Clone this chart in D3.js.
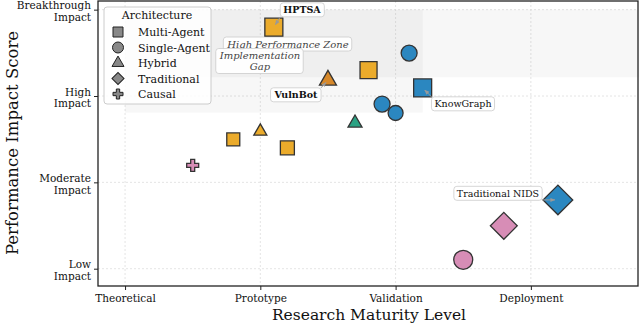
<!DOCTYPE html>
<html><head><meta charset="utf-8">
<script src="https://cdn.jsdelivr.net/npm/d3@7"></script>
<style>
body{margin:0;background:#fff;}
svg{font-family:"DejaVu Serif",serif;}
</style></head>
<body><svg id="chart" width="640" height="326"></svg>
<script>
// ---- data ----
const xTickValues = [1, 2, 3, 4];
const xTickLabels = ["Theoretical", "Prototype", "Validation", "Deployment"];
const yTickValues = [20, 50, 80, 110];
const yTickLabels = [["Low", "Impact"], ["Moderate", "Impact"], ["High", "Impact"], ["Breakthrough", "Impact"]];

const names      = ["HPTSA","M2","S1","VulnBot","KnowGraph","S2","S3","H2","M3","H3","M4","C1","Traditional NIDS","T2","S4"];
const maturity   = [2.1, 2.8, 3.1, 2.5, 3.2, 2.9, 3.0, 2.7, 1.8, 2.0, 2.2, 1.5, 4.2, 3.8, 3.5];
const impact     = [103.9, 89.0, 94.9, 85.5, 82.8, 77.2, 74.1, 70.6, 64.9, 67.7, 62.0, 55.9, 43.9, 34.9, 23.1];
const archType   = ["Multi-Agent","Multi-Agent","Single-Agent","Hybrid","Multi-Agent","Single-Agent","Single-Agent","Hybrid","Multi-Agent","Hybrid","Multi-Agent","Causal","Traditional","Traditional","Single-Agent"];
const group      = ["A","A","B","C","B","B","B","D","A","A","A","E","B","E","E"];
const weight     = [18, 17, 16, 17, 18, 16, 15, 14, 13, 13, 14, 12, 21, 19, 19];
const labeled    = ["HPTSA","VulnBot","KnowGraph","Traditional NIDS"];

const archCategories = ["Multi-Agent","Single-Agent","Hybrid","Traditional","Causal"];
const groupCategories = ["A","B","C","D","E"];
const groupColors = ["#EBAB2B","#2B87C0","#D6882A","#2AA283","#D78DB6"];

const zoneNames = ["Implementation Gap", "High Performance Zone"];
const zoneX0 = [1.0, 1.0];
const zoneX1 = [3.2, 4.8];
const zoneY0 = [74.2, 86.5];
const zoneY1 = [110, 110];

// ---- layout ----
const svg = d3.select("#chart");
const L = 98, R = 638, T = 1, B = 286;
const x = d3.scaleLinear().domain([0.8, 4.792]).range([L, R]);
const y = d3.scaleLinear().domain([20, 80]).range([268.7, 96]);
y.domain([y.invert(B), y.invert(T)]).range([B, T]);

const color = d3.scaleOrdinal().domain(groupCategories).range(groupColors);
const shapeOf = d3.scaleOrdinal().domain(archCategories)
  .range([d3.symbolSquare, d3.symbolCircle, d3.symbolTriangle, d3.symbolSquare, d3.symbolCross]);
const areaFactor = d3.scaleOrdinal().domain(archCategories)
  .range([1, Math.PI / 4, Math.sqrt(3) / 4, 1, 5 / 9]);
const rotOf = a => a === "Traditional" ? 45 : 0;

// grid
const g = svg.append("g");
g.selectAll(".vg").data(xTickValues).join("line")
  .attr("x1", d => x(d)).attr("x2", d => x(d)).attr("y1", T).attr("y2", B)
  .attr("stroke", "#ddd").attr("stroke-width", 0.8).attr("stroke-dasharray", "2,2");
g.selectAll(".hg").data(yTickValues).join("line")
  .attr("x1", L).attr("x2", R).attr("y1", d => y(d)).attr("y2", d => y(d))
  .attr("stroke", "#ddd").attr("stroke-width", 0.8).attr("stroke-dasharray", "2,2");

// zones
g.selectAll(".zone").data(zoneNames).join("rect")
  .attr("x", (d, i) => x(zoneX0[i])).attr("width", (d, i) => x(zoneX1[i]) - x(zoneX0[i]))
  .attr("y", (d, i) => y(zoneY1[i])).attr("height", (d, i) => y(zoneY0[i]) - y(zoneY1[i]))
  .attr("fill", "#888").attr("fill-opacity", 0.065);

function boxLabel(lines, cx, cy, opts) {
  const fs = opts.size || 10, lh = opts.lh || 11;
  const grp = svg.append("g");
  const t = grp.append("text").attr("text-anchor", opts.anchor || "middle")
    .attr("font-size", fs).attr("font-style", opts.italic ? "italic" : "normal")
    .attr("font-weight", opts.bold ? "bold" : "normal").attr("fill", opts.fill || "#222");
  lines.forEach((s, i) => t.append("tspan").attr("x", cx).attr("y", cy + i * lh - (lines.length - 1) * lh / 2 + fs * 0.35).text(s));
  const bb = t.node().getBBox();
  grp.insert("rect", "text").attr("x", bb.x - 3).attr("y", bb.y - 1.5).attr("width", bb.width + 6).attr("height", bb.height + 3)
    .attr("rx", 3).attr("fill", "#fff").attr("fill-opacity", 0.9).attr("stroke", "#ccc").attr("stroke-width", 0.8);
  return bb;
}
boxLabel(["High Performance Zone"], 288, 44, {italic: true, size: 10, fill: "#444"});
boxLabel(["Implementation", "Gap"], 260, 61, {italic: true, size: 10, lh: 11, fill: "#444"});

// points
const pts = names.map((n, i) => ({n, i}));
svg.selectAll(".pt").data(pts).join("path")
  .attr("transform", d => `translate(${x(maturity[d.i])},${y(impact[d.i])}) rotate(${rotOf(archType[d.i])})`)
  .attr("d", d => {
    const a = archType[d.i];
    return d3.symbol(shapeOf(a), weight[d.i] * weight[d.i] * areaFactor(a))();
  })
  .attr("fill", d => color(group[d.i])).attr("stroke", "#333").attr("stroke-width", 1.3);

// callouts
const defs = svg.append("defs");
defs.append("marker").attr("id", "ah").attr("viewBox", "0 0 10 10").attr("refX", 9).attr("refY", 5)
  .attr("markerWidth", 5).attr("markerHeight", 5).attr("orient", "auto")
  .append("path").attr("d", "M0,1 L10,5 L0,9 z").attr("fill", "#999");
const labelX = [302, 296, 463, 498];
const labelY = [10, 95, 104, 193.5];
const labelBold = [true, true, false, false];
labeled.forEach((n, k) => {
  const i = names.indexOf(n);
  const px = x(maturity[i]), py = y(impact[i]);
  const bb = boxLabel([n], labelX[k], labelY[k], {size: 9.5, bold: labelBold[k], fill: "#111"});
  const sx = Math.max(bb.x - 3, Math.min(px, bb.x + bb.width + 3));
  const sy = Math.max(bb.y - 1.5, Math.min(py, bb.y + bb.height + 1.5));
  const dx = px - sx, dy = py - sy, len = Math.hypot(dx, dy);
  const ex = px - dx / len * 3, ey = py - dy / len * 3;
  svg.append("line").attr("x1", sx).attr("y1", sy).attr("x2", ex).attr("y2", ey)
    .attr("stroke", "#999").attr("stroke-width", 1).attr("marker-end", "url(#ah)");
});

// frame
svg.append("rect").attr("x", L).attr("y", T).attr("width", R - L).attr("height", B - T)
  .attr("fill", "none").attr("stroke", "#222").attr("stroke-width", 1.3);

// axes
const xAxis = svg.append("g").attr("transform", `translate(0,${B})`)
  .call(d3.axisBottom(x).tickValues(xTickValues).tickFormat((d, i) => xTickLabels[i]).tickSize(4).tickPadding(5));
xAxis.select(".domain").remove();
xAxis.selectAll("line").attr("stroke", "#222");
xAxis.selectAll("text").attr("font-size", 10.5).attr("font-family", "DejaVu Serif").attr("fill", "#111");

const yAxis = svg.append("g").attr("transform", `translate(${L},0)`)
  .call(d3.axisLeft(y).tickValues(yTickValues).tickFormat("").tickSize(4));
yAxis.select(".domain").remove();
yAxis.selectAll("line").attr("stroke", "#222");
yAxis.selectAll(".tick").each(function(d, i) {
  const t = d3.select(this).append("text").attr("text-anchor", "end").attr("font-size", 10.5)
    .attr("font-family", "DejaVu Serif").attr("fill", "#111");
  yTickLabels[i].forEach((s, j) => t.append("tspan").attr("x", -7).attr("y", (j - 0.5) * 11.5 + 5).text(s));
});

svg.append("text").attr("x", 369).attr("y", 320).attr("text-anchor", "middle")
  .attr("font-size", 15.5).attr("fill", "#111").text("Research Maturity Level");
svg.append("text").attr("transform", `translate(18,143) rotate(-90)`).attr("text-anchor", "middle")
  .attr("font-size", 16.5).attr("fill", "#111").text("Performance Impact Score");

// legend
const lg = svg.append("g");
lg.append("rect").attr("x", 104).attr("y", 7).attr("width", 107).attr("height", 97).attr("rx", 3)
  .attr("fill", "#fff").attr("fill-opacity", 0.85).attr("stroke", "#ccc").attr("stroke-width", 1);
lg.append("text").attr("x", 157).attr("y", 19).attr("text-anchor", "middle").attr("font-size", 11).attr("fill", "#111").text("Architecture");
const legendDim = [10, 11, 12, 8.5, 10];
archCategories.forEach((a, i) => {
  const yy = 32 + i * 15.5;
  lg.append("path").attr("transform", `translate(118,${yy}) rotate(${rotOf(a)})`)
    .attr("d", d3.symbol(shapeOf(a), legendDim[i] * legendDim[i] * areaFactor(a))())
    .attr("fill", "#888").attr("stroke", "#222").attr("stroke-width", 1);
  lg.append("text").attr("x", 138).attr("y", yy + 4).attr("font-size", 11).attr("fill", "#111").text(a);
});
</script></body></html>
